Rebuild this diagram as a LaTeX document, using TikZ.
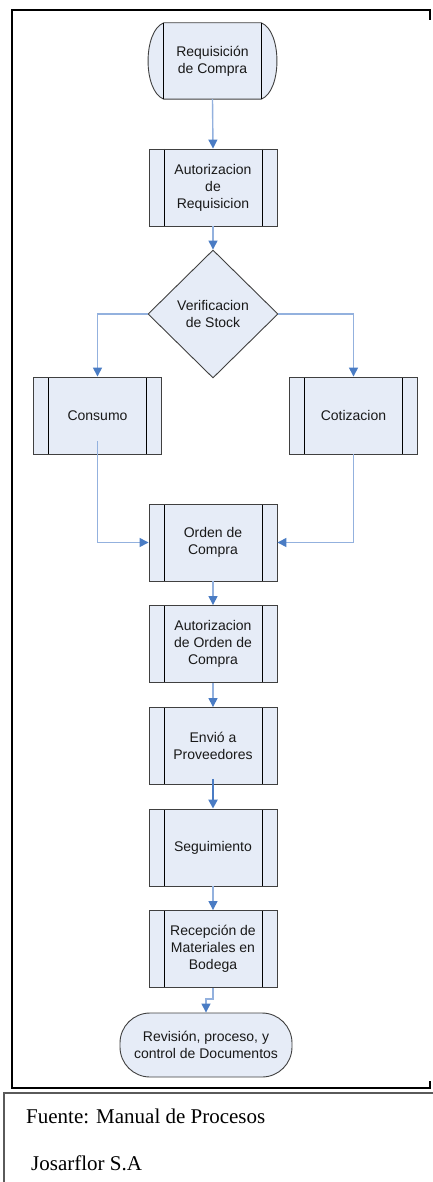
\documentclass[tikz,border=0pt]{standalone}
\usepackage{fontspec}
\setmainfont{Liberation Serif}
\newfontfamily\boxfont{Liberation Sans}
\usetikzlibrary{shapes.geometric,arrows.meta,calc,backgrounds}

\definecolor{boxfill}{HTML}{E6ECF7}
\definecolor{boxline}{HTML}{404040}
\definecolor{linkline}{HTML}{93B1DE}
\definecolor{linkhead}{HTML}{4A7CC4}
\definecolor{footline}{HTML}{5A5A5A}

\tikzset{
  boxtext/.style={font=\boxfont\fontsize{14}{17}\selectfont, text=black!90, align=center},
  procbox/.style={boxtext, rectangle, draw=boxline, line width=0.9pt, fill=boxfill,
    minimum width=128pt, minimum height=77pt, inner sep=0pt,
    path picture={
      \draw[black, line width=0.9pt]
        ([xshift=15pt]path picture bounding box.north west) -- ([xshift=15pt]path picture bounding box.south west)
        ([xshift=-15pt]path picture bounding box.north east) -- ([xshift=-15pt]path picture bounding box.south east);
    }},
  startbox/.style={boxtext, rectangle, minimum width=97pt, minimum height=76pt, inner sep=0pt},
  endbox/.style={boxtext, rectangle, rounded corners=30pt, draw=boxline, line width=0.9pt,
    fill=boxfill, minimum width=172pt, minimum height=64pt, inner sep=0pt},
  decision/.style={boxtext, diamond, draw=boxline, line width=0.9pt, fill=boxfill,
    minimum width=130pt, minimum height=128pt, inner sep=0pt},
  link/.style={draw=linkline, line width=1.4pt,
    -{Triangle[length=9pt, width=9pt, color=linkhead]}},
  thicklink/.style={draw=linkhead, line width=2.4pt,
    -{Triangle[length=9pt, width=9pt, color=linkhead]}},
  frameline/.style={draw=black, line width=2pt},
  footer/.style={draw=footline, line width=1.5pt},
  foottext/.style={anchor=base west, inner sep=0pt, font=\fontsize{21}{24}\selectfont}
}

\begin{document}
\begin{tikzpicture}[x=1pt, y=-1pt]
  \useasboundingbox (0,0) rectangle (433,1182);

  % outer frame of the flow
  \draw[frameline] (430,20) -- (430,10) -- (12,10) -- (12,1088) -- (430,1088) -- (430,1081);

  % start terminator: rectangle with bulging sides
  \node[startbox] (req) at (212.5,61) {Requisición\\de Compra};
  \begin{pgfonlayer}{background}
    \draw[draw=boxline, line width=0.9pt, fill=boxfill]
      (req.north west) -- (req.north east)
      .. controls ($(req.north east)+(21,8)$) and ($(req.south east)+(21,-8)$) .. (req.south east)
      -- (req.south west)
      .. controls ($(req.south west)+(-21,-8)$) and ($(req.north west)+(-21,8)$) .. (req.north west) -- cycle;
  \end{pgfonlayer}
  \draw[black, line width=0.9pt] (req.north west) -- (req.south west)
                                 (req.north east) -- (req.south east);

  % process steps
  \node[procbox] (aut1) at (213,187.5) {Autorizacion\\de\\Requisicion};
  \node[decision] (ver) at (213,314) {Verificacion\\de Stock};
  \node[procbox] (cons) at (97.5,415.5) {Consumo};
  \node[procbox] (cot) at (353.5,415.5) {Cotizacion};
  \node[procbox] (ord) at (213,542.5) {Orden de\\Compra};
  \node[procbox] (aut2) at (213,644) {Autorizacion\\de Orden de\\Compra};
  \node[procbox] (env) at (213,746) {Envió a\\Proveedores};
  \node[procbox] (seg) at (213,847.5) {Seguimiento};
  \node[procbox] (rec) at (213,949) {Recepción de\\Materiales en\\Bodega};
  \node[endbox] (fin) at (206,1045) {Revisión, proceso, y\\control de Documentos};

  % connectors
  \draw[link] (req.south) -- (aut1.north);
  \draw[link] (aut1.south) -- (ver.north);
  \draw[link] (ver.west) -| (cons.north);
  \draw[link] (ver.east) -| (cot.north);
  \coordinate (consout) at ($(cons.center)+(0,25.5)$);
  \draw[link] (consout) |- (ord.west);
  \draw[link] (cot.south) |- (ord.east);
  \draw[link] (ord.south) -- (aut2.north);
  \draw[link] (aut2.south) -- (env.north);
  \coordinate (envout) at ($(env.south)+(0,-6)$);
  \draw[thicklink] (envout) -- (seg.north);
  \draw[link] (seg.south) -- (rec.north);
  \coordinate (recbend) at ($(rec.south)+(0,11)$);
  \draw[link] (rec.south) -- (recbend) -| (fin.north);

  % source note
  \draw[footer] (433,1093) -- (4,1093) -- (4,1182);
  \node[foottext] (src) at (26,1123) {Fuente: Manual de Procesos};
  \node[foottext] (org) at (31,1170) {Josarflor S.A};
\end{tikzpicture}
\end{document}
